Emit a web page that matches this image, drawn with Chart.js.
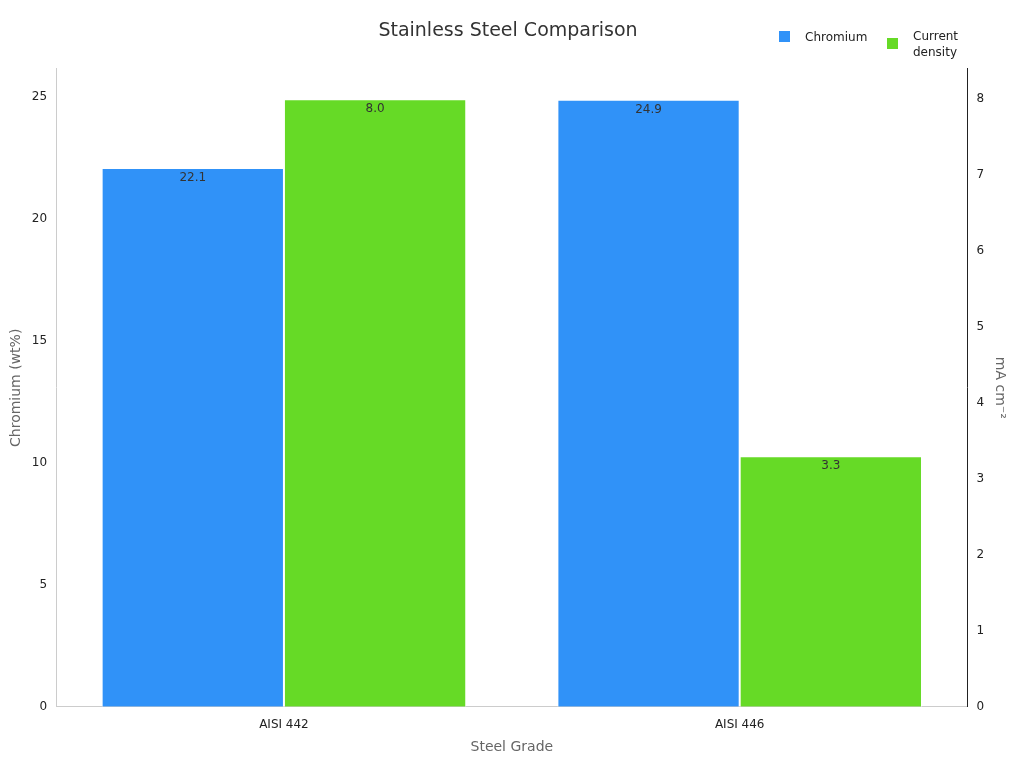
<!DOCTYPE html>
<html>
<head>
<meta charset="utf-8">
<script src="https://cdn.jsdelivr.net/npm/chart.js@4"></script>
<style>
html,body{margin:0;padding:0;background:#fff;}
#wrap{width:1024px;height:768px;}
</style>
</head>
<body>
<div id="wrap"><canvas id="c" width="1024" height="768"></canvas></div>
<script>
const grades = ['AISI 442', 'AISI 446'];
const chromium = [22.1, 24.9];
const currentDensity = [8.0, 3.3];
const seriesNames = ['Chromium', 'Current density'];
const colors = ['#3092f8', '#66da26'];

// value labels just under the top of each bar
const barLabels = {
    id: 'barLabels',
    afterDatasetsDraw(chart) {
        const ctx = chart.ctx;
        ctx.save();
        ctx.font = '12px "DejaVu Sans"';
        ctx.fillStyle = '#333';
        ctx.textAlign = 'center';
        ctx.textBaseline = 'top';
        chart.data.datasets.forEach((ds, i) => {
            chart.getDatasetMeta(i).data.forEach((bar, j) => {
                ctx.fillText(ds.data[j].toFixed(1), bar.x, bar.y + 4);
            });
        });
        ctx.restore();
    }
};

// legend in the top-right corner
const cornerLegend = {
    id: 'cornerLegend',
    afterDraw(chart) {
        const ctx = chart.ctx;
        ctx.save();
        ctx.font = '12px "DejaVu Sans"';
        ctx.fillStyle = '#222';
        ctx.textBaseline = 'middle';
        ctx.fillStyle = colors[0];
        ctx.fillRect(779, 31, 11, 11);
        ctx.fillStyle = '#222';
        ctx.fillText('Chromium', 805, 38);
        ctx.fillStyle = colors[1];
        ctx.fillRect(887, 38, 11, 11);
        ctx.fillStyle = '#222';
        ctx.fillText('Current', 913, 37);
        ctx.fillText('density', 913, 53);
        ctx.restore();
    }
};

new Chart(document.getElementById('c').getContext('2d'), {
    type: 'bar',
    data: {
        labels: grades,
        datasets: [
            { label: seriesNames[0], data: chromium, backgroundColor: colors[0], borderColor: '#fff', borderWidth: 1, yAxisID: 'y' },
            { label: seriesNames[1], data: currentDensity, backgroundColor: colors[1], borderColor: '#fff', borderWidth: 1, yAxisID: 'y1' }
        ]
    },
    options: {
        responsive: false,
        animation: false,
        devicePixelRatio: 1,
        categoryPercentage: 0.8,
        barPercentage: 1,
        layout: { padding: { top: 12, left: 4, right: 12, bottom: 8 } },
        font: { family: '"DejaVu Sans"' },
        scales: {
            x: {
                grid: { display: false, drawTicks: true },
                border: { color: '#ccc' },
                ticks: { color: '#222', font: { family: '"DejaVu Sans"', size: 12 } },
                title: { display: true, text: 'Steel Grade', color: '#666', font: { family: '"DejaVu Sans"', size: 14 } }
            },
            y: {
                position: 'left', min: 0, max: 26.17,
                grid: { display: false, drawTicks: true, tickLength: 6 },
                border: { color: '#ccc' },
                ticks: { stepSize: 5, color: '#222', font: { family: '"DejaVu Sans"', size: 12 },
                    callback: v => (v % 5 === 0 ? v : null) },
                title: { display: true, text: 'Chromium (wt%)', color: '#666', font: { family: '"DejaVu Sans"', size: 14 } }
            },
            y1: {
                position: 'right', min: 0, max: 8.4,
                grid: { display: false, drawTicks: true, tickLength: 6 },
                border: { color: '#222' },
                ticks: { stepSize: 1, color: '#222', font: { family: '"DejaVu Sans"', size: 12 },
                    callback: v => (Number.isInteger(v) ? v : null) },
                title: { display: true, text: 'mA cm⁻²', color: '#666', font: { family: '"DejaVu Sans"', size: 14 } }
            }
        },
        plugins: {
            legend: { display: false },
            tooltip: { enabled: false },
            title: { display: true, text: 'Stainless Steel Comparison', color: '#333',
                font: { family: '"DejaVu Sans"', size: 19, weight: 'normal' }, padding: { top: 8, bottom: 26 } }
        }
    },
    plugins: [barLabels, cornerLegend]
});
</script>
</body>
</html>
